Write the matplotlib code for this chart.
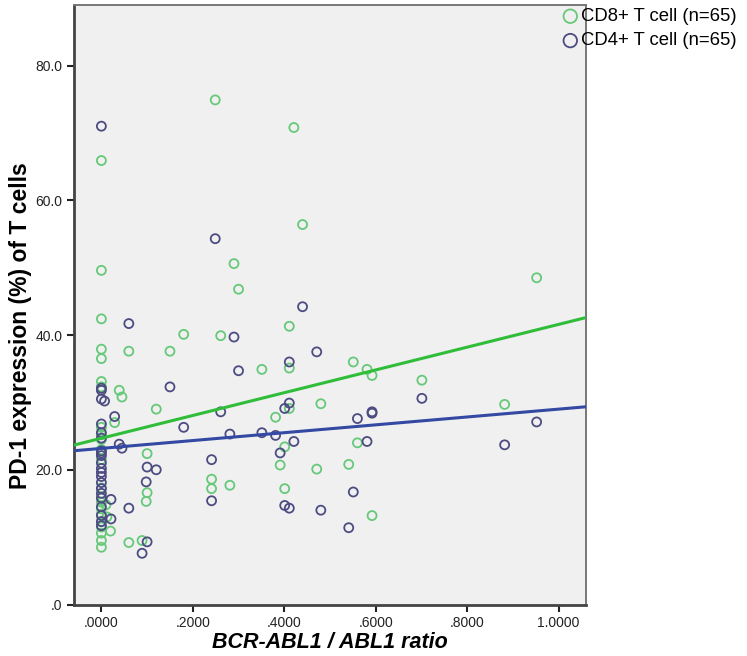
import numpy as np
import matplotlib
matplotlib.use("Agg")
import matplotlib.pyplot as plt

plt.rcParams["font.family"] = ["Liberation Sans", "DejaVu Sans"]

# BCR-ABL1 / ABL1 ratio and PD-1 expression (%)
cd8_x = [0, 0, 0, 0, 0.039, 0.045, 0.060, 0.150, 0.180, 0.261,
         0.120, 0.029, 0, 0.100, 0.100, 0.098, 0.241, 0.241, 0.281, 0.060,
         0.089, 0.020, 0, 0, 0, 0.421, 0.440, 0.952, 0.411, 0.351,
         0.411, 0.551, 0.581, 0.592, 0.701, 0.882, 0.411, 0.480, 0.381, 0.401,
         0.560, 0.391, 0.471, 0.541, 0.401, 0.592, 0.249, 0, 0, 0.290,
         0.300, 0, 0, 0, 0, 0, 0, 0, 0, 0,
         0, 0, 0, 0.010, 0.012]
cd8_y = [42.4, 37.9, 36.5, 33.1, 31.8, 30.8, 37.6, 37.6, 40.1, 39.9,
         29.0, 27.0, 26.3, 22.4, 16.6, 15.3, 18.6, 17.2, 17.7, 9.2,
         9.5, 10.9, 10.6, 9.5, 8.5, 70.8, 56.4, 48.5, 41.3, 34.9,
         35.1, 36.0, 34.9, 34.0, 33.3, 29.7, 29.1, 29.8, 27.8, 23.4,
         24.0, 20.7, 20.1, 20.8, 17.2, 13.2, 74.9, 65.9, 49.6, 50.6,
         46.8, 32.3, 25.2, 24.5, 23.0, 21.5, 17.3, 16.0, 15.2, 14.2,
         13.4, 12.3, 11.5, 14.8, 13.0]

cd4_x = [0.060, 0.290, 0.300, 0.150, 0, 0, 0.007, 0.029, 0.261, 0.180,
         0.281, 0.039, 0.045, 0, 0, 0, 0, 0, 0, 0,
         0, 0, 0.021, 0, 0, 0.021, 0, 0.100, 0.120, 0.098,
         0.060, 0.241, 0.241, 0.100, 0.089, 0.440, 0.471, 0.411, 0.411, 0.401,
         0.592, 0.592, 0.701, 0.560, 0.952, 0.351, 0.381, 0.421, 0.581, 0.882,
         0.391, 0.551, 0.401, 0.411, 0.480, 0.541, 0, 0.249, 0, 0,
         0, 0, 0, 0, 0]
cd4_y = [41.7, 39.7, 34.7, 32.3, 32.1, 30.5, 30.2, 27.9, 28.6, 26.3,
         25.3, 23.8, 23.2, 26.8, 25.5, 24.7, 22.5, 22.1, 21.0, 19.6,
         18.1, 16.5, 15.6, 14.5, 13.2, 12.7, 11.7, 20.4, 20.0, 18.2,
         14.3, 21.5, 15.4, 9.3, 7.6, 44.2, 37.5, 36.0, 29.9, 29.1,
         28.6, 28.4, 30.6, 27.6, 27.1, 25.5, 25.1, 24.2, 24.2, 23.7,
         22.5, 16.7, 14.7, 14.3, 14.0, 11.4, 71.0, 54.3, 31.8, 20.2,
         19.0, 17.2, 15.8, 12.3, 22.8]

x_ticks = [0, 0.2, 0.4, 0.6, 0.8, 1.0]
x_tick_labels = [".0000", ".2000", ".4000", ".6000", ".8000", "1.0000"]
y_ticks = [0, 20, 40, 60, 80]
y_tick_labels = [".0", "20.0", "40.0", "60.0", "80.0"]

fig = plt.figure(figsize=(7.47, 6.56), dpi=100)
ax = fig.add_axes([0.099, 0.0785, 0.6855, 0.914])
ax.set_facecolor("#f0f0f0")

ax.scatter(cd8_x, cd8_y, s=42, facecolors="none", edgecolors="#66c97a",
           linewidths=1.3, label="CD8+ T cell (n=65)", zorder=3)
ax.scatter(cd4_x, cd4_y, s=42, facecolors="none", edgecolors="#4c4c82",
           linewidths=1.3, label="CD4+ T cell (n=65)", zorder=3)

xlim = (-0.06, 1.06)
xs = np.array(xlim)
# least-squares fit lines
for xv, yv, c in [(cd8_x, cd8_y, "#2fbd3a"), (cd4_x, cd4_y, "#3349a3")]:
    k, b = np.polyfit(xv, yv, 1)
    ax.plot(xs, k * xs + b, color=c, lw=2.2, zorder=4)

ax.set_xlim(*xlim)
ax.set_ylim(0, 89)
ax.set_xticks(x_ticks)
ax.set_xticklabels(x_tick_labels)
ax.set_yticks(y_ticks)
ax.set_yticklabels(y_tick_labels)
ax.tick_params(direction="out", length=5, width=1.5, labelsize=10, colors="#222222")

for s in ["left", "bottom"]:
    ax.spines[s].set_linewidth(2)
    ax.spines[s].set_color("#444444")
for s in ["top", "right"]:
    ax.spines[s].set_linewidth(1.4)
    ax.spines[s].set_color("#777777")

ax.set_xlabel("BCR-ABL1 / ABL1 ratio", fontsize=15.5, fontweight="bold",
              fontstyle="italic", labelpad=1)
ax.set_ylabel("PD-1 expression (%) of T cells", fontsize=16.5, fontweight="bold")
ax.yaxis.set_label_coords(-0.082, 0.465)

leg = ax.legend(loc="upper left", bbox_to_anchor=(0.735, 1.006),
                bbox_transform=fig.transFigure, frameon=False, fontsize=13.3,
                handletextpad=0.1, borderpad=0.15, labelspacing=0.4,
                handlelength=1.0, markerscale=1.5)

fig.savefig("out.png", dpi=100)
